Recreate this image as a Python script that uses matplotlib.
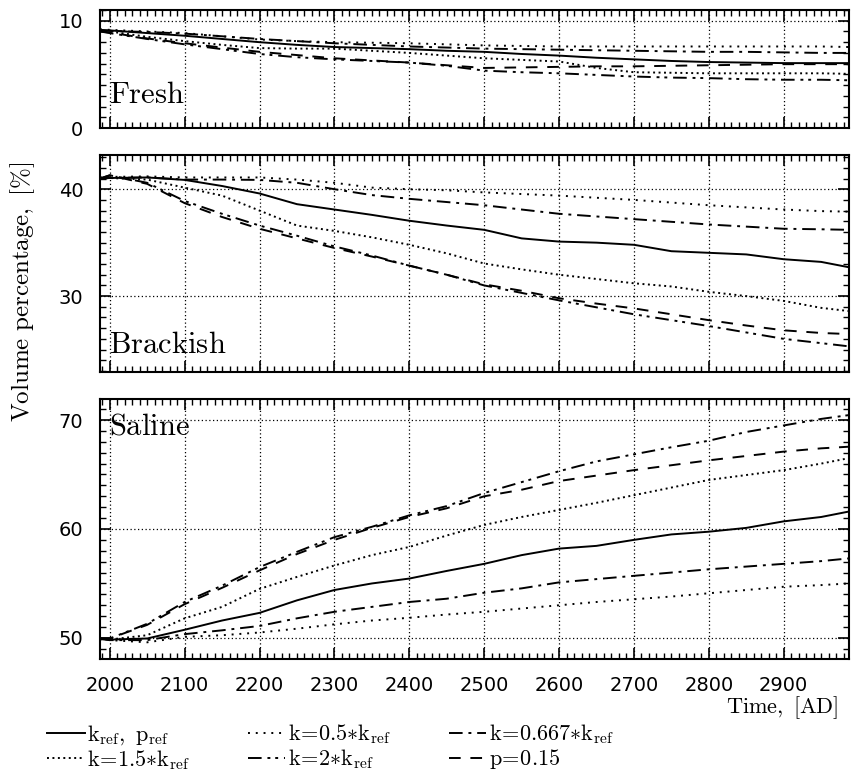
import matplotlib
matplotlib.use('Agg')
import matplotlib.pyplot as plt
from matplotlib.ticker import MultipleLocator

plt.rcParams['mathtext.fontset'] = 'cm'
plt.rcParams['font.family'] = 'DejaVu Sans'

# Time axis (AD)
years = [1987, 2000, 2050, 2100, 2150, 2200, 2250, 2300, 2350, 2400, 2450,
         2500, 2550, 2600, 2650, 2700, 2750, 2800, 2850, 2900, 2950, 2987]

# Fresh water volume percentage
fresh_ref  = [9.15, 9.1, 8.85, 8.6, 8.3, 8.0, 7.75, 7.55, 7.45, 7.35, 7.2,
              7.1, 6.9, 6.75, 6.55, 6.4, 6.25, 6.15, 6.1, 6.05, 6.05, 6.05]
fresh_k05  = [9.2, 9.15, 9.0, 8.85, 8.55, 8.25, 8.1, 8.0, 7.95, 7.9, 7.8,
              7.7, 7.65, 7.6, 7.6, 7.6, 7.6, 7.6, 7.6, 7.6, 7.6, 7.55]
fresh_k067 = [9.1, 9.05, 8.95, 8.8, 8.55, 8.3, 8.1, 7.9, 7.75, 7.6, 7.5,
              7.4, 7.35, 7.3, 7.25, 7.2, 7.15, 7.1, 7.1, 7.05, 7.0, 7.0]
fresh_k15  = [9.1, 9.0, 8.5, 8.1, 7.75, 7.45, 7.4, 7.4, 7.2, 7.0, 6.75,
              6.5, 6.35, 6.2, 5.6, 5.2, 5.15, 5.1, 5.1, 5.1, 5.1, 5.05]
fresh_k2   = [9.0, 8.85, 8.3, 7.8, 7.35, 6.9, 6.6, 6.4, 6.25, 6.1, 5.8,
              5.35, 5.2, 5.1, 4.95, 4.8, 4.7, 4.65, 4.55, 4.5, 4.5, 4.45]
fresh_p015 = [9.0, 8.9, 8.35, 7.9, 7.5, 7.1, 6.8, 6.5, 6.3, 6.1, 5.85,
              5.6, 5.65, 5.7, 5.75, 5.75, 5.8, 5.85, 5.9, 5.95, 5.95, 5.95]

# Brackish water volume percentage
brack_ref  = [41.0, 41.05, 41.1, 40.87, 40.3, 39.6, 38.6, 38.1, 37.6, 37.05, 36.6,
              36.2, 35.4, 35.1, 35.0, 34.8, 34.2, 34.05, 33.9, 33.45, 33.2, 32.7]
brack_k05  = [41.1, 41.15, 41.2, 41.1, 41.1, 41.1, 40.9, 40.6, 40.15, 40.0, 39.9,
              39.7, 39.55, 39.4, 39.2, 39.0, 38.75, 38.5, 38.3, 38.1, 37.95, 37.9]
brack_k067 = [41.0, 41.05, 41.1, 40.9, 40.9, 40.87, 40.6, 40.0, 39.45, 39.1, 38.8,
              38.5, 38.1, 37.7, 37.45, 37.2, 36.95, 36.7, 36.5, 36.3, 36.25, 36.2]
brack_k15  = [41.0, 41.05, 40.9, 40.15, 39.4, 38.0, 36.6, 36.1, 35.5, 34.8, 34.0,
              33.05, 32.5, 32.0, 31.6, 31.2, 30.9, 30.4, 30.0, 29.55, 28.9, 28.6]
brack_k2   = [41.0, 41.3, 40.6, 38.9, 37.7, 36.6, 35.65, 34.65, 33.8, 32.85, 32.0,
              31.0, 30.3, 29.6, 28.95, 28.3, 27.75, 27.2, 26.6, 26.0, 25.6, 25.3]
brack_p015 = [41.0, 41.3, 40.5, 38.7, 37.4, 36.3, 35.4, 34.5, 33.7, 32.85, 32.0,
              31.1, 30.5, 29.8, 29.3, 28.85, 28.3, 27.75, 27.25, 26.8, 26.55, 26.45]

# Saline water volume percentage
sal_ref  = [49.95, 49.85, 49.95, 50.75, 51.6, 52.3, 53.45, 54.4, 55.0, 55.45, 56.15,
            56.8, 57.6, 58.2, 58.45, 59.0, 59.5, 59.75, 60.1, 60.7, 61.1, 61.6]
sal_k05  = [49.9, 49.8, 49.6, 50.1, 50.25, 50.5, 50.85, 51.25, 51.6, 51.85, 52.15,
            52.4, 52.7, 53.0, 53.3, 53.55, 53.8, 54.1, 54.4, 54.7, 54.85, 55.0]
sal_k067 = [49.9, 49.8, 49.8, 50.35, 50.7, 51.1, 51.8, 52.4, 52.85, 53.3, 53.6,
            54.15, 54.55, 55.1, 55.4, 55.7, 56.0, 56.3, 56.55, 56.8, 57.05, 57.3]
sal_k15  = [49.9, 49.85, 50.25, 51.8, 52.85, 54.5, 55.6, 56.65, 57.6, 58.35, 59.4,
            60.37, 61.1, 61.75, 62.4, 63.1, 63.8, 64.5, 64.95, 65.4, 66.0, 66.5]
sal_k2   = [49.95, 49.95, 51.3, 53.3, 54.8, 56.5, 57.9, 59.25, 60.2, 61.25, 62.1,
            63.3, 64.3, 65.3, 66.2, 66.85, 67.5, 68.1, 68.9, 69.5, 70.1, 70.45]
sal_p015 = [49.95, 49.95, 51.2, 53.1, 54.6, 56.2, 57.7, 59.0, 60.1, 61.1, 61.9,
            63.0, 63.6, 64.4, 64.9, 65.4, 65.85, 66.3, 66.7, 67.1, 67.4, 67.55]

labels = [r'$\mathrm{k_{ref},\ p_{ref}}$', r'$\mathrm{k\!=\!0.5{*}k_{ref}}$',
          r'$\mathrm{k\!=\!0.667{*}k_{ref}}$', r'$\mathrm{k\!=\!1.5{*}k_{ref}}$',
          r'$\mathrm{k\!=\!2{*}k_{ref}}$', r'$\mathrm{p\!=\!0.15}$']
styles = ['-', (0, (1, 3)), (0, (7, 3, 1.5, 3)), (0, (1, 1.8)),
          (0, (7, 3, 1.5, 2.5, 1.5, 3)), (0, (6, 5))]

panels = [
    ('Fresh', [fresh_ref, fresh_k05, fresh_k067, fresh_k15, fresh_k2, fresh_p015],
     (0, 11), [0, 10], 0.16),
    ('Brackish', [brack_ref, brack_k05, brack_k067, brack_k15, brack_k2, brack_p015],
     (22.9, 43.2), [30, 40], 0.06),
    ('Saline', [sal_ref, sal_k05, sal_k067, sal_k15, sal_k2, sal_p015],
     (48.07, 71.93), [50, 60, 70], 0.84),
]
# axes rectangles in figure fraction (left, bottom, width, height)
rects = [(0.1175, 0.8348, 0.880, 0.1523),
         (0.1175, 0.5200, 0.880, 0.2800),
         (0.1175, 0.1497, 0.880, 0.3355)]

fig = plt.figure(figsize=(8.51, 7.75), dpi=100)
handles = []
for i, ((name, series, ylim, yt, ty), rect) in enumerate(zip(panels, rects)):
    ax = fig.add_axes(rect)
    for s, ls in zip(series, styles):
        ln, = ax.plot(years, s, color='black', lw=1.4, linestyle=ls)
        if i == 0:
            handles.append(ln)
    ax.set_xlim(1987, 2987)
    ax.set_ylim(*ylim)
    ax.set_yticks(yt)
    ax.set_xticks(range(2000, 3000, 100))
    ax.xaxis.set_minor_locator(MultipleLocator(10))
    ax.yaxis.set_minor_locator(MultipleLocator(1))
    ax.tick_params(which='both', direction='in', top=True, right=True)
    ax.tick_params(which='major', length=8, width=1.2, labelsize=14, pad=12)
    ax.tick_params(which='minor', length=4, width=1.0)
    ax.grid(True, which='major', linestyle=(0, (1, 2)), color='black', lw=0.9)
    for sp in ax.spines.values():
        sp.set_linewidth(1.5)
    if i < 2:
        ax.tick_params(labelbottom=False)
    ax.text(0.012, ty, r'$\mathrm{%s}$' % name, transform=ax.transAxes,
            fontsize=22, va='bottom', ha='left')

fig.text(0.026, 0.623, r'$\mathrm{Volume\ percentage,\ [\%]}$', fontsize=18,
         rotation=90, va='center', ha='center')
fig.text(0.985, 0.087, r'$\mathrm{Time,\ [AD]}$', fontsize=16,
         ha='right', va='center')

order = [0, 3, 1, 4, 2, 5]
fig.legend([handles[j] for j in order], [labels[j] for j in order],
           loc='upper left', bbox_to_anchor=(0.055, 0.068), ncol=3,
           frameon=False, fontsize=16, handlelength=1.7, handletextpad=0.1,
           columnspacing=2.6, labelspacing=0.05, borderaxespad=0, borderpad=0)

fig.savefig('out.png', dpi=100)
